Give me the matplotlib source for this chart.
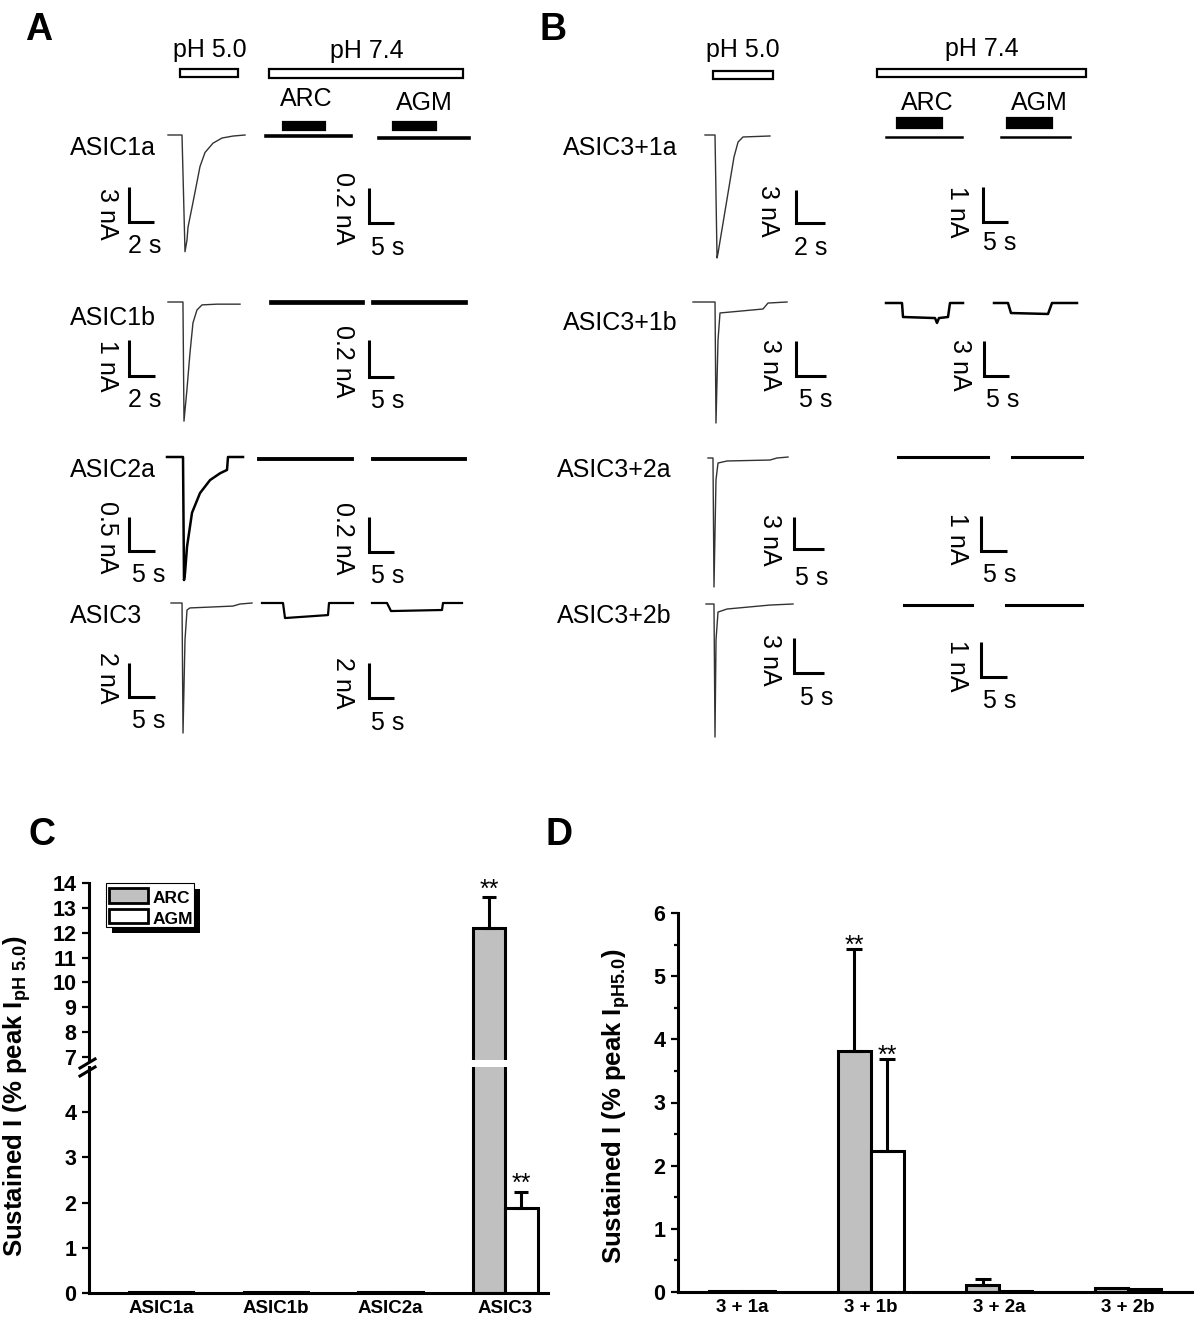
import numpy as np
import matplotlib.pyplot as plt
from matplotlib.patches import Rectangle
from matplotlib.ticker import MultipleLocator

plt.rcParams['font.family'] = ['Liberation Sans', 'DejaVu Sans']
plt.rcParams['mathtext.fontset'] = 'custom'
plt.rcParams['mathtext.rm'] = 'Liberation Sans'
plt.rcParams['mathtext.bf'] = 'Liberation Sans:bold'

W, H = 1200, 1321
GRAY = '#c0c0c0'

# ---------------- recordings, time in s, current in nA ----------------
# panel A, pH 5.0 peak currents
asic1a_t = [0, 1.12, 1.36, 1.52, 1.6, 1.92, 2.24, 2.56, 2.96, 3.6, 4.32, 5.2, 6.16]
asic1a_i = [0, 0, -10.0, -9.0, -7.9, -6.2, -4.46, -2.7, -1.5, -0.7, -0.26, -0.09, 0]
asic1b_t = [0, 1.15, 1.23, 1.46, 1.69, 1.92, 2.23, 2.62, 3.77, 5.54]
asic1b_i = [0, 0, -3.31, -2.42, -1.42, -0.58, -0.22, -0.08, -0.06, -0.06]
asic2a_t = [0, 3.08, 3.27, 3.46, 3.85, 4.81, 6.35, 8.27, 10.19, 11.54, 11.73, 14.62]
asic2a_i = [0, 0, -1.81, -1.71, -1.32, -0.82, -0.53, -0.34, -0.24, -0.19, 0, 0]
asic3_t = [0, 2.12, 2.31, 2.69, 3.08, 3.65, 7.5, 11.92, 13.27, 15.58]
asic3_i = [0, 0, -7.65, -2.18, -0.41, -0.29, -0.24, -0.18, -0.06, 0]

# panel A, pH 7.4 with ARC / AGM
asic1a_arc_t, asic1a_arc_i = [0, 17.0], [0, 0]
asic1a_agm_t, asic1a_agm_i = [22.6, 40.6], [-0.01, -0.01]
asic1b_arc_t, asic1b_arc_i = [0, 18.2], [0, 0]
asic1b_agm_t, asic1b_agm_i = [20.4, 38.8], [0, 0]
asic2a_arc_t, asic2a_arc_i = [0, 18.6], [0, 0]
asic2a_agm_t, asic2a_agm_i = [22.8, 41.2], [0, 0]
asic3_arc_t = [0, 4.2, 4.6, 7.6, 13.2, 13.4, 18.2]
asic3_arc_i = [0, 0, -0.86, -0.8, -0.69, 0, 0]
asic3_agm_t = [22.0, 25.0, 25.8, 36.0, 36.2, 40.0]
asic3_agm_i = [0, 0, -0.46, -0.4, 0, 0]

# panel B, pH 5.0 peak currents
a31a_t = [0, 0.69, 0.83, 0.9, 2.0, 2.28, 2.62, 4.48]
a31a_i = [0, 0, -11.18, -10.73, -2.0, -0.64, -0.18, -0.09]
a31b_t = [0, 3.67, 3.83, 4.17, 4.5, 11.67, 12.5, 15.67]
a31b_i = [0, 0, -10.37, -3.26, -0.94, -0.6, -0.09, 0]
a32a_t = [0, 0.83, 1.0, 1.33, 1.67, 3.17, 10.33, 11.5, 13.33]
a32a_i = [0, 0, -12.09, -2.06, -0.47, -0.28, -0.19, 0, 0.09]
a32b_t = [0, 1.33, 1.5, 1.67, 2.0, 3.5, 10.67, 14.5]
a32b_i = [0, 0, -11.4, -3.08, -0.69, -0.43, -0.09, 0]

# panel B, pH 7.4 with ARC / AGM
a31a_arc_t, a31a_arc_i = [0, 15.2], [0, 0]
a31a_agm_t, a31a_agm_i = [23.0, 36.8], [0, 0]
a31b_arc_t = [0, 3.2, 3.4, 9.8, 10.2, 10.6, 12.4, 12.8, 15.4]
a31b_arc_i = [0, 0, -1.2, -1.29, -1.71, -1.29, -1.2, 0, 0]
a31b_agm_t = [21.6, 24.4, 25.0, 32.4, 33.2, 38.2]
a31b_agm_i = [0, 0, -0.86, -0.94, 0, 0]
a32a_arc_t, a32a_arc_i = [0, 17.3], [0, 0]
a32a_agm_t, a32a_agm_i = [21.9, 35.4], [0, 0]
a32b_arc_t, a32b_arc_i = [0, 13.1], [0, 0]
a32b_agm_t, a32b_agm_i = [19.6, 34.2], [0, 0]

# ---------------- bar charts ----------------
c_groups = ['ASIC1a', 'ASIC1b', 'ASIC2a', 'ASIC3']
c_arc = [0.02, 0.02, 0.02, 12.19]
c_arc_err = [0, 0, 0, 1.25]
c_agm = [0.02, 0.02, 0.02, 1.89]
c_agm_err = [0, 0, 0, 0.34]

d_groups = ['3 + 1a', '3 + 1b', '3 + 2a', '3 + 2b']
d_arc = [0.01, 3.82, 0.11, 0.065]
d_arc_err = [0, 1.61, 0.09, 0]
d_agm = [0.01, 2.23, 0.01, 0.04]
d_agm_err = [0, 1.46, 0, 0]

fig = plt.figure(figsize=(W / 100, H / 100), dpi=100)
ov = fig.add_axes([0, 0, 1, 1])
ov.set_xlim(0, W)
ov.set_ylim(H, 0)
ov.axis('off')


def record(traces, x0, y0, px_s, px_na, lw, color, corner, bar_s, bar_na, na_xy, s_xy):
    # one transparent axes per recording, scaled so 1 s / 1 nA match the picture
    ax = fig.add_axes([0, 0, 1, 1])
    ax.set_xlim(-x0 / px_s, (W - x0) / px_s)
    ax.set_ylim((y0 - H) / px_na, y0 / px_na)
    ax.axis('off')
    for t, i in traces:
        ax.plot(t, i, color=color, lw=lw, solid_joinstyle='round')
    t0, i0 = ax.transData.inverted().transform((corner[0], H - corner[1]))
    ax.plot([t0, t0, t0 + bar_s], [i0 + bar_na, i0, i0], color='k', lw=2.2,
            solid_capstyle='butt', solid_joinstyle='miter')
    ov.text(na_xy[0], na_xy[1], f'{bar_na:g} nA', rotation=-90, ha='center',
            va='center', fontsize=18)
    ov.text(s_xy[0], s_xy[1], f'{bar_s:g} s', ha='center', va='baseline', fontsize=18)


# panel A
record([(asic1a_t, asic1a_i)], 168, 135, 12.5, 11.67, 1.0, '#333333', (129, 222), 2, 3, (107, 214), (145, 253))
record([(asic1a_arc_t, asic1a_arc_i), (asic1a_agm_t, asic1a_agm_i)], 266, 136, 5, 175, 2.6, 'k',
       (369, 223), 5, 0.2, (343, 208), (388, 255))
record([(asic1b_t, asic1b_i)], 168, 302, 13, 36, 1.0, '#333333', (129, 376), 2, 1, (107, 366), (145, 407))
record([(asic1b_arc_t, asic1b_arc_i), (asic1b_agm_t, asic1b_agm_i)], 271, 302, 5, 185, 3.4, 'k',
       (369, 377), 5, 0.2, (343, 361), (388, 408))
record([(asic2a_t, asic2a_i)], 167, 457, 5.2, 68, 1.8, 'k', (129, 551), 5, 0.5, (107, 537), (149, 582))
record([(asic2a_arc_t, asic2a_arc_i), (asic2a_agm_t, asic2a_agm_i)], 259, 459, 5, 175, 2.8, 'k',
       (369, 552), 5, 0.2, (343, 538), (388, 583))
record([(asic3_t, asic3_i)], 171, 603, 5.2, 17, 1.0, '#333333', (129, 697), 5, 2, (107, 678), (149, 728))
record([(asic3_arc_t, asic3_arc_i), (asic3_agm_t, asic3_agm_i)], 262, 603, 5, 17.5, 1.6, 'k',
       (369, 698), 5, 2, (343, 683), (388, 730))

# panel B
record([(a31a_t, a31a_i)], 705, 135, 14.5, 11, 1.0, '#333333', (796, 223), 2, 3, (768, 211), (811, 255))
record([(a31a_arc_t, a31a_arc_i), (a31a_agm_t, a31a_agm_i)], 886, 137, 5, 35, 1.8, 'k',
       (983, 222), 5, 1, (957, 212), (1000, 250))
record([(a31b_t, a31b_i)], 693, 302, 6, 11.67, 1.0, '#333333', (796, 376), 5, 3, (770, 365), (816, 407))
record([(a31b_arc_t, a31b_arc_i), (a31b_agm_t, a31b_agm_i)], 886, 303, 5, 11.67, 1.8, 'k',
       (984, 376), 5, 3, (960, 365), (1003, 407))
record([(a32a_t, a32a_i)], 708, 458, 6, 10.67, 1.0, '#333333', (794, 549), 5, 3, (770, 540), (812, 585))
record([(a32a_arc_t, a32a_arc_i), (a32a_agm_t, a32a_agm_i)], 898, 457, 5.2, 35, 2.2, 'k',
       (981, 551), 5, 1, (957, 539), (1000, 582))
record([(a32b_t, a32b_i)], 706, 604, 6, 11.67, 1.0, '#333333', (794, 673), 5, 3, (770, 660), (817, 705))
record([(a32b_arc_t, a32b_arc_i), (a32b_agm_t, a32b_agm_i)], 904, 605, 5.2, 35, 2.2, 'k',
       (981, 677), 5, 1, (957, 666), (1000, 708))

# row labels
for s, x, y in [('ASIC1a', 70, 155), ('ASIC1b', 70, 325), ('ASIC2a', 70, 477), ('ASIC3', 70, 623),
                ('ASIC3+1a', 563, 155), ('ASIC3+1b', 563, 330), ('ASIC3+2a', 557, 477),
                ('ASIC3+2b', 557, 623)]:
    ov.text(x, y, s, fontsize=18, va='baseline')

# solution bars
for x, y, w, h, fc in [(180, 69, 58, 8, 'white'), (269, 69, 194, 9, 'white'),
                       (283, 122, 42, 8, 'k'), (393, 122, 43, 8, 'k'),
                       (713, 71, 60, 8, 'white'), (877, 69, 209, 8, 'white'),
                       (897, 118, 45, 10, 'k'), (1007, 118, 45, 10, 'k')]:
    ov.add_patch(Rectangle((x, y), w, h, facecolor=fc, edgecolor='k', lw=1.6))
for s, x, y in [('pH 5.0', 210, 57), ('pH 7.4', 367, 58), ('ARC', 306, 106), ('AGM', 424, 110),
                ('pH 5.0', 743, 57), ('pH 7.4', 982, 56), ('ARC', 927, 110), ('AGM', 1039, 110)]:
    ov.text(x, y, s, fontsize=18, ha='center', va='baseline')

for s, x, y in [('A', 25, 40), ('B', 540, 40), ('C', 28, 845), ('D', 546, 845)]:
    ov.text(x, y, s, fontsize=27, fontweight='bold', va='baseline')


def style(ax):
    ax.patch.set_visible(False)
    ax.spines[['top', 'right']].set_visible(False)
    ax.spines[['left', 'bottom']].set_linewidth(2.2)
    ax.tick_params(axis='y', direction='out', length=5, width=1.6, pad=4)


def errbars(ax, xs, vals, errs, cap):
    for xi, v, e in zip(xs, vals, errs):
        if e > 0:
            ax.errorbar(xi, v, yerr=[[0], [e]], fmt='none', ecolor='k', elinewidth=2.2,
                        capsize=cap, capthick=2.2)


def stars(ax, xi, top, dy):
    ax.annotate('**', (xi, top), xytext=(0, dy), textcoords='offset points',
                ha='center', va='center', fontsize=18)


# ---------------- panel C (broken axis) ----------------
xc = np.arange(len(c_groups))
bw = 0.28
axc_top = fig.add_axes([89 / W, 1 - 1060 / H, 459 / W, 177 / H])
axc_bot = fig.add_axes([89 / W, 1 - 1293 / H, 459 / W, 226 / H])
for ax in (axc_top, axc_bot):
    style(ax)
    ax.bar(xc - bw / 2, c_arc, bw, color=GRAY, edgecolor='k', linewidth=2.2)
    ax.bar(xc + bw / 2, c_agm, bw, color='white', edgecolor='k', linewidth=2.2)
    errbars(ax, xc - bw / 2, c_arc, c_arc_err, 4.7)
    errbars(ax, xc + bw / 2, c_agm, c_agm_err, 4.7)
    ax.set_xlim(-0.627, 3.371)
axc_top.spines['bottom'].set_visible(False)
axc_top.set_xticks([])
axc_top.set_ylim(6.88, 14)
axc_top.set_yticks(range(7, 15), [str(v) for v in range(7, 15)], fontweight='bold', fontsize=15.5)
axc_bot.set_ylim(0, 5.0)
axc_bot.set_yticks(range(0, 5), [str(v) for v in range(0, 5)], fontweight='bold', fontsize=15.5)
axc_bot.set_xticks(xc, c_groups, fontweight='bold', fontsize=13.5)
axc_bot.tick_params(axis='x', length=0, pad=5)
stars(axc_top, xc[3] - bw / 2, c_arc[3] + c_arc_err[3], 5)
stars(axc_bot, xc[3] + bw / 2, c_agm[3] + c_agm_err[3], 6)

# axis break marks
for (xa, ya), (xb, yb) in [((80, 1068), (95, 1059)), ((80, 1076), (95, 1067))]:
    ov.plot([xa, xb], [ya, yb], color='k', lw=2.2)

# legend
ov.add_patch(Rectangle((112, 889), 88, 44, facecolor='k', edgecolor='none'))
ov.add_patch(Rectangle((106, 883), 88, 44, facecolor='white', edgecolor='k', lw=0.8))
ov.add_patch(Rectangle((109, 888), 39, 15, facecolor=GRAY, edgecolor='k', lw=2))
ov.add_patch(Rectangle((109, 909), 39, 14, facecolor='white', edgecolor='k', lw=2))
ov.text(153, 903, 'ARC', fontweight='bold', fontsize=12.5, va='baseline')
ov.text(153, 924, 'AGM', fontweight='bold', fontsize=12.5, va='baseline')

ov.text(17, 1096, r'Sustained I (% peak I$_{\mathregular{pH\ 5.0}}$)', rotation=90,
        ha='center', va='center', fontsize=18.5, fontweight='bold')

# ---------------- panel D ----------------
xd = np.arange(len(d_groups))
bwd = 0.256
axd = fig.add_axes([678 / W, 1 - 1292 / H, 514 / W, 379 / H])
style(axd)
axd.bar(xd - bwd / 2, d_arc, bwd, color=GRAY, edgecolor='k', linewidth=2.2)
axd.bar(xd + bwd / 2, d_agm, bwd, color='white', edgecolor='k', linewidth=2.2)
errbars(axd, xd - bwd / 2, d_arc, d_arc_err, 6.1)
errbars(axd, xd + bwd / 2, d_agm, d_agm_err, 6.1)
axd.set_xlim(-0.5, 3.5)
axd.set_ylim(0, 6)
axd.set_yticks(range(0, 7), [str(v) for v in range(0, 7)], fontweight='bold', fontsize=15.5)
axd.yaxis.set_minor_locator(MultipleLocator(0.5))
axd.tick_params(axis='y', which='minor', direction='out', length=3, width=1.6)
axd.set_xticks(xd, d_groups, fontweight='bold', fontsize=13.5)
axd.tick_params(axis='x', length=0, pad=5)
stars(axd, xd[1] - bwd / 2, d_arc[1] + d_arc_err[1], 2)
stars(axd, xd[1] + bwd / 2, d_agm[1] + d_agm_err[1], 2)

ov.text(616, 1106, r'Sustained I (% peak I$_{\mathregular{pH5.0}}$)', rotation=90,
        ha='center', va='center', fontsize=18.5, fontweight='bold')

fig.savefig('out.png', dpi=100)
